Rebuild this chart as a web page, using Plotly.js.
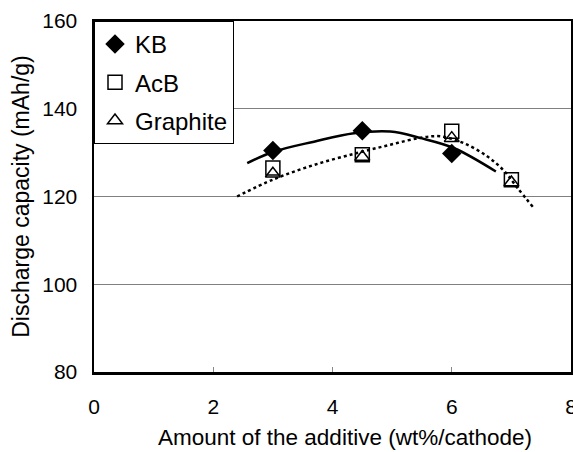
<!DOCTYPE html>
<html>
<head>
<meta charset="utf-8">
<script src="https://cdn.plot.ly/plotly-3.0.1.min.js"></script>
<style>html,body{margin:0;padding:0;background:#fff;}#chart{width:573px;height:452px;}</style>
</head>
<body>
<div id="chart"></div>
<script>
// Measured data
const kbX = [3, 4.5, 6];
const kbY = [130.5, 135.0, 129.8];
const acbX = [3, 4.5, 6, 7];
const acbY = [126.5, 129.5, 134.9, 123.8];
const graphiteX = [3, 4.5, 6, 7];
const graphiteY = [125.2, 129.0, 133.3, 123.2];
// Trend curves
const kbTrendX = [2.57, 3.01, 3.69, 4.36, 4.97, 5.48, 6.04, 6.74];
const kbTrendY = [127.6, 130.2, 132.5, 134.4, 134.8, 133.3, 131.0, 125.7];
const otherTrendX = [2.40, 3.01, 3.69, 4.41, 4.97, 5.48, 5.82, 6.21, 6.60, 6.88, 7.10, 7.38];
const otherTrendY = [120.0, 123.9, 127.2, 129.9, 131.8, 133.4, 133.7, 132.1, 129.1, 125.8, 122.0, 117.3];
const xTicks = [0, 2, 4, 6, 8];
const yTicks = [80, 100, 120, 140, 160];
const xTitle = 'Amount of the additive (wt%/cathode)';
const yTitle = 'Discharge capacity (mAh/g)';

const FONT = 'Liberation Sans, Arial, sans-serif';

const traces = [
  {x: kbTrendX, y: kbTrendY, mode: 'lines', line: {color: '#000', width: 2.5, shape: 'spline'}, showlegend: false, hoverinfo: 'skip'},
  {x: otherTrendX, y: otherTrendY, mode: 'lines', line: {color: '#000', width: 2.5, dash: 'dot', shape: 'spline'}, showlegend: false, hoverinfo: 'skip'},
  {x: kbX, y: kbY, name: 'KB', mode: 'markers', legendgroup: 'a',
   marker: {symbol: 'diamond', size: 15, color: '#000', line: {color: '#000', width: 0}}},
  {x: acbX, y: acbY, name: 'AcB', mode: 'markers', legendgroup: 'b',
   marker: {symbol: 'square-open', size: 14, color: '#000', line: {color: '#000', width: 1.5}}},
  {x: graphiteX, y: graphiteY, name: 'Graphite', mode: 'markers', legendgroup: 'c',
   marker: {symbol: 'triangle-up-open', size: 13, color: '#000', line: {color: '#000', width: 1.5}}}
];

const layout = {
  width: 573, height: 452,
  margin: {l: 94, r: 2, t: 21, b: 80},
  paper_bgcolor: '#fff', plot_bgcolor: '#fff',
  font: {family: FONT, color: '#000', size: 21},
  showlegend: true,
  legend: {x: 0, y: 1, xanchor: 'left', yanchor: 'top', bgcolor: '#fff', bordercolor: '#000', borderwidth: 1,
           font: {family: FONT, size: 24, color: '#000'}, tracegroupgap: 4, itemwidth: 30},
  xaxis: {
    range: [0, 8], tickvals: xTicks, ticktext: xTicks.map(String),
    showgrid: false, zeroline: false, showline: true, linecolor: '#000', linewidth: 2.5, mirror: true,
    ticks: 'inside', ticklen: 5, tickcolor: '#888', tickwidth: 1, ticklabeloverflow: 'allow',
    tickfont: {family: FONT, size: 21, color: '#000'}, ticklabelstandoff: 14
  },
  yaxis: {
    range: [80, 160], tickvals: yTicks, ticktext: yTicks.map(String),
    showgrid: true, gridcolor: '#808080', gridwidth: 1, zeroline: false,
    showline: true, linecolor: '#000', linewidth: 2.5, mirror: true, ticks: '',
    tickfont: {family: FONT, size: 21, color: '#000'}, ticklabelstandoff: 10,
    title: {text: yTitle, font: {family: FONT, size: 23, color: '#000'}, standoff: 6}
  },
  annotations: [
    {text: xTitle, xref: 'paper', yref: 'paper', x: 0.526, y: -0.188, xanchor: 'center', yanchor: 'middle',
     showarrow: false, font: {family: FONT, size: 22.5, color: '#000'}}
  ]
};

Plotly.newPlot('chart', traces, layout, {staticPlot: true, displayModeBar: false});
</script>
</body>
</html>
